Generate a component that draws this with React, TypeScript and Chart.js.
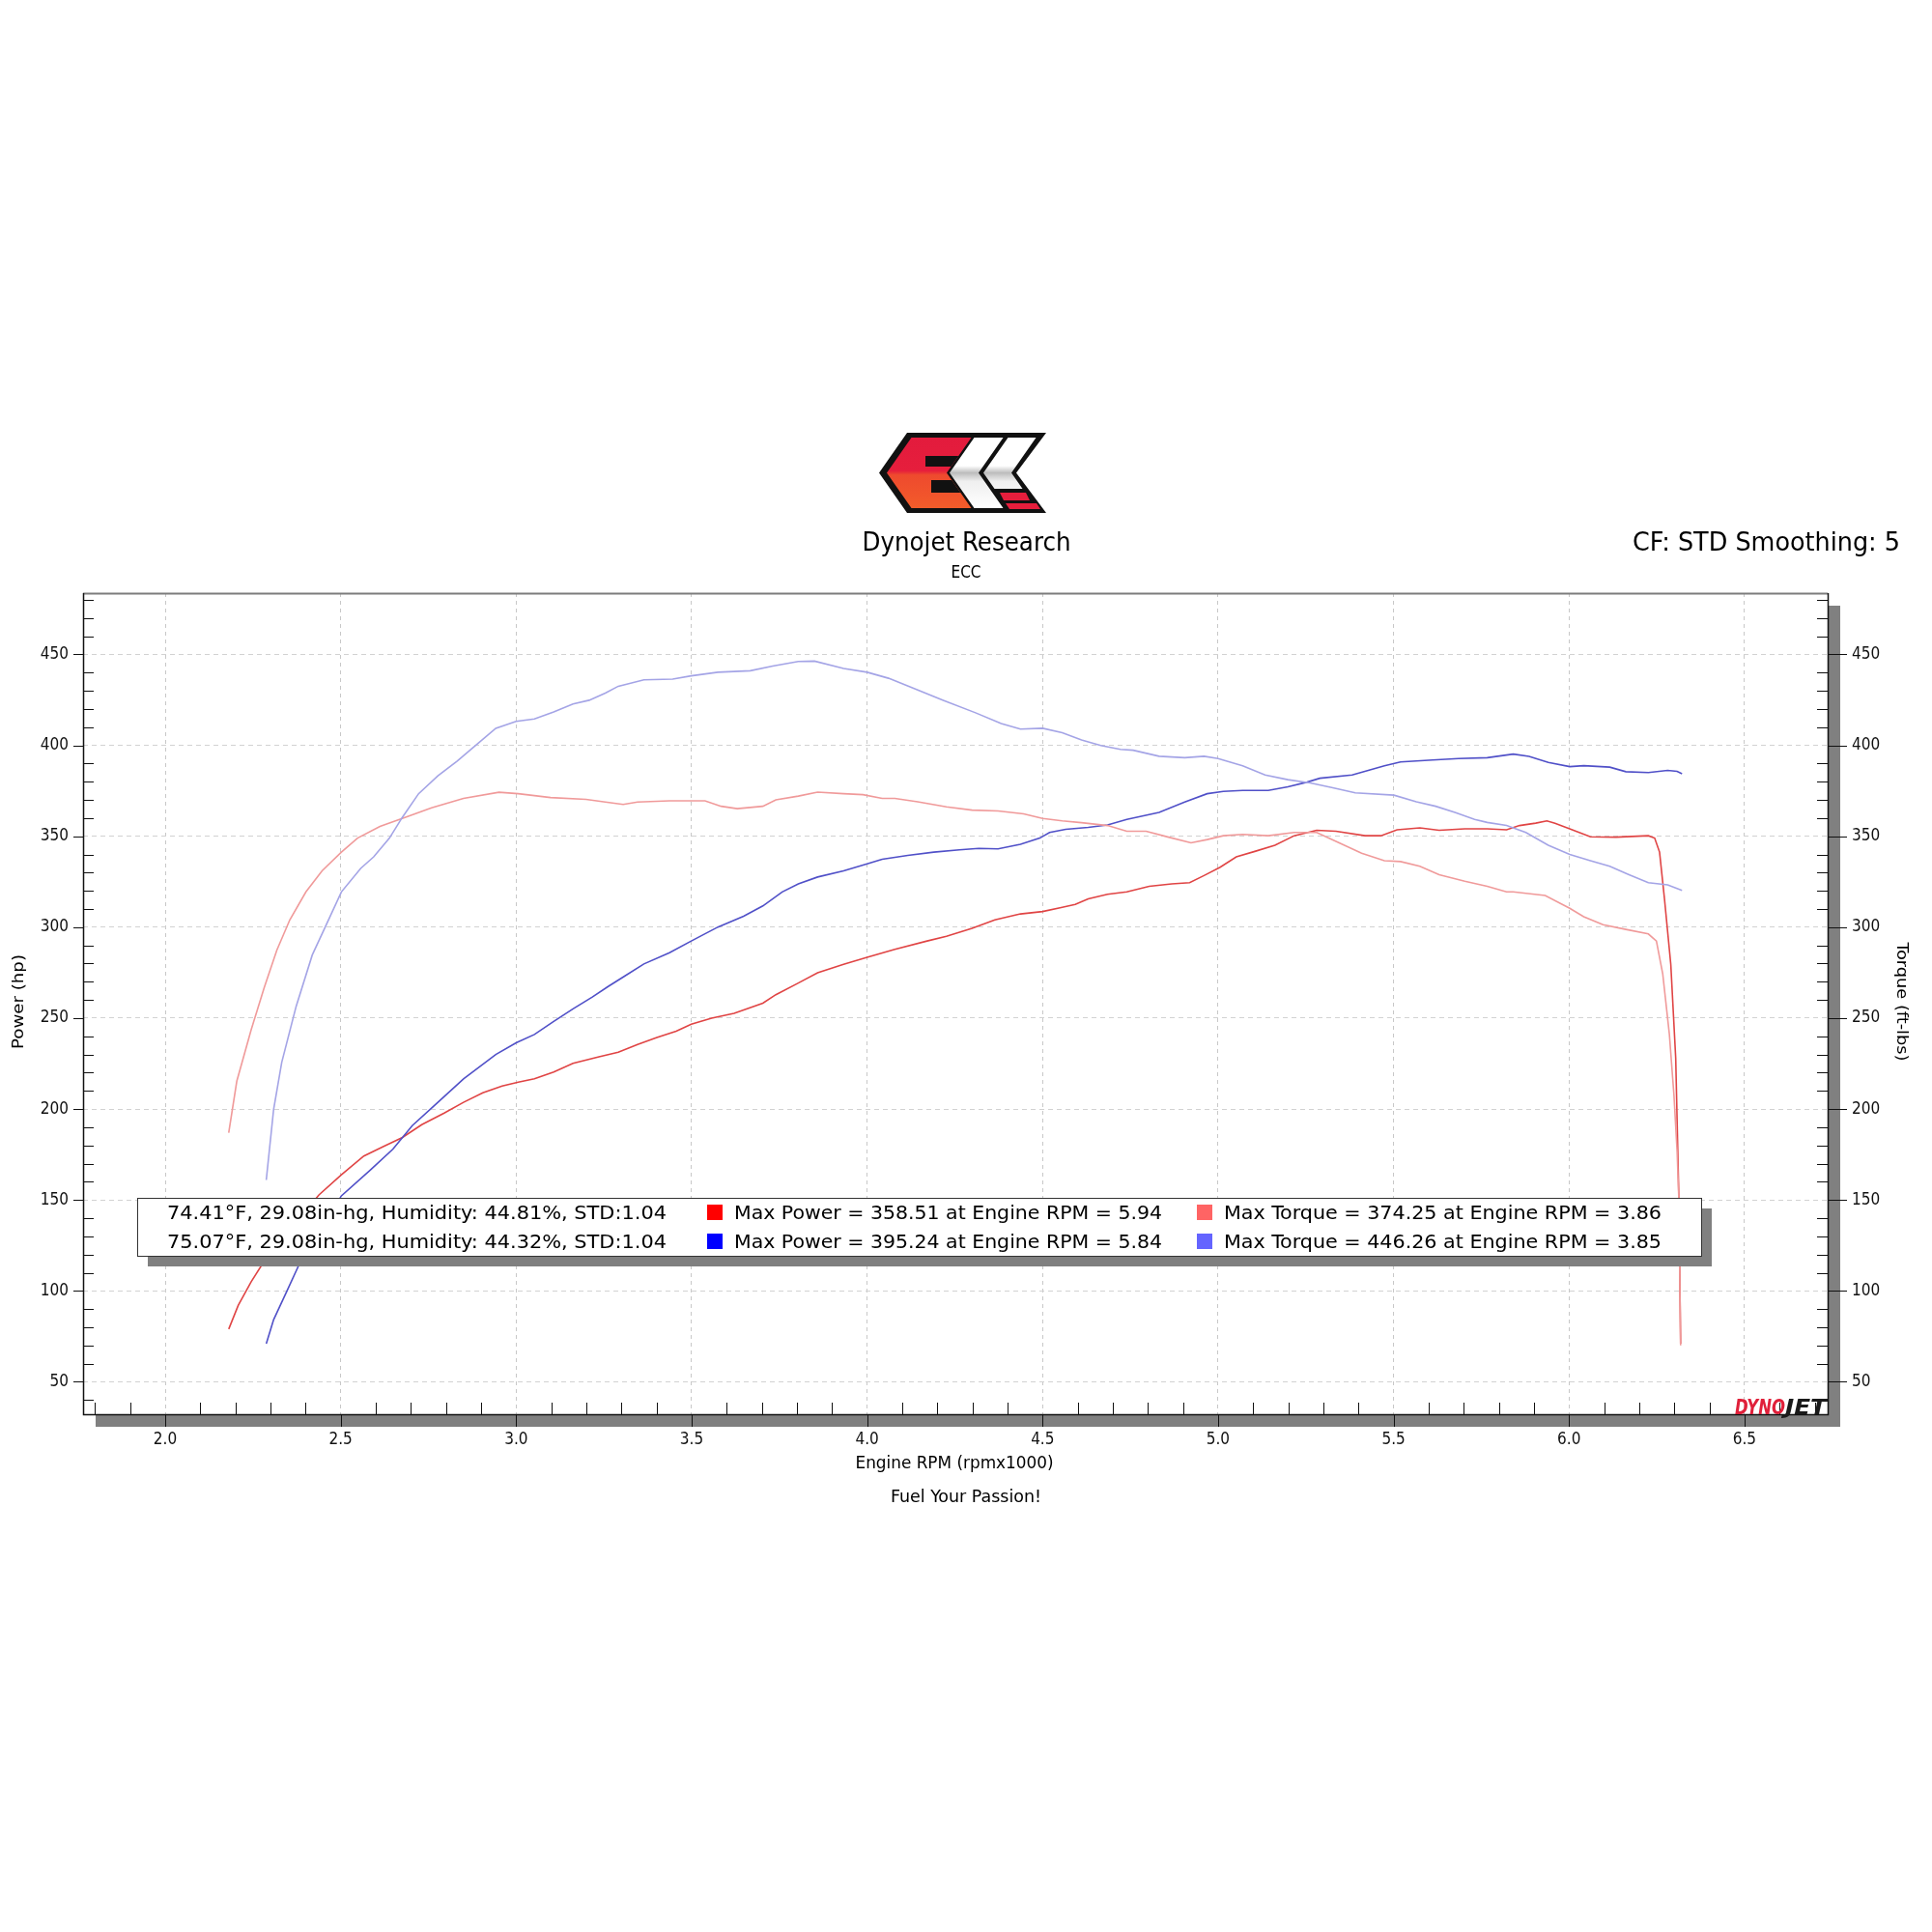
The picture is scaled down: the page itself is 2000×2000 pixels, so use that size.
import { useEffect, useRef } from 'react';
import { Chart, registerables } from 'chart.js';

Chart.register(...registerables);

// ---------- data ----------
const P1_RPM = [2.181, 2.208, 2.245, 2.286, 2.36, 2.438, 2.502, 2.566, 2.621, 2.676, 2.731, 2.795, 2.85, 2.905, 2.96, 3.006, 3.052, 3.107, 3.162, 3.236, 3.291, 3.346, 3.401, 3.456, 3.499, 3.557, 3.621, 3.703, 3.74, 3.804, 3.859, 3.933, 4.0, 4.079, 4.171, 4.226, 4.299, 4.364, 4.437, 4.5, 4.556, 4.593, 4.63, 4.685, 4.74, 4.804, 4.868, 4.919, 4.96, 5.006, 5.052, 5.107, 5.162, 5.217, 5.281, 5.336, 5.419, 5.464, 5.51, 5.575, 5.63, 5.703, 5.767, 5.822, 5.859, 5.905, 5.937, 5.96, 6.002, 6.061, 6.134, 6.226, 6.244, 6.258, 6.272, 6.29, 6.304, 6.313, 6.318];
const P1_HP = [79, 92, 105, 117.6, 135, 152.8, 163.9, 174.2, 179.3, 184.4, 191.4, 197.8, 203.7, 208.9, 212.7, 214.8, 216.6, 220.4, 225.1, 228.7, 231.2, 235.5, 239.3, 242.8, 246.7, 250, 252.6, 258.2, 262.9, 269.3, 274.9, 279.6, 283.4, 287.8, 292.4, 295, 299.4, 304, 307.3, 308.6, 310.9, 312.5, 315.6, 318.1, 319.4, 322.5, 323.8, 324.5, 328.4, 333, 338.7, 341.8, 345.1, 350.3, 353.3, 352.8, 350.3, 350.3, 353.6, 354.6, 353.3, 354.1, 354.1, 353.6, 355.9, 357.2, 358.5, 357.2, 354.1, 349.7, 349.5, 350.3, 349, 341.3, 315.6, 279.6, 228.1, 151, 71];

const T1_RPM = [2.181, 2.204, 2.245, 2.282, 2.318, 2.355, 2.401, 2.447, 2.502, 2.548, 2.612, 2.685, 2.759, 2.85, 2.951, 3.006, 3.098, 3.199, 3.254, 3.305, 3.346, 3.401, 3.437, 3.538, 3.584, 3.63, 3.703, 3.74, 3.804, 3.859, 3.933, 3.988, 4.043, 4.079, 4.144, 4.226, 4.299, 4.373, 4.446, 4.5, 4.556, 4.611, 4.685, 4.74, 4.795, 4.859, 4.923, 4.969, 5.015, 5.07, 5.143, 5.217, 5.281, 5.345, 5.409, 5.474, 5.52, 5.575, 5.63, 5.703, 5.767, 5.822, 5.841, 5.932, 6.002, 6.042, 6.097, 6.162, 6.226, 6.249, 6.267, 6.286, 6.299, 6.308, 6.313, 6.318];
const T1_TQ = [187, 215.3, 243.6, 266.7, 287.3, 304, 319.4, 331, 341.3, 349, 355.4, 360.5, 365.7, 370.8, 374.2, 373.4, 371.3, 370.3, 368.8, 367.5, 368.8, 369.2, 369.5, 369.5, 366.5, 365.2, 366.5, 370, 372.1, 374.3, 373.4, 372.9, 370.8, 370.8, 369, 366.2, 364.4, 363.9, 362.3, 359.8, 358.5, 357.5, 355.9, 352.8, 352.8, 349.5, 346.4, 348.2, 350.3, 351, 350.3, 352.1, 352.1, 346.4, 340.7, 336.6, 336.1, 333.5, 328.9, 325.3, 322.5, 319.4, 319.4, 317.4, 310.4, 305.8, 301.4, 298.8, 296.3, 292.4, 274.4, 241, 207.6, 176.7, 150, 70];

const P2_RPM = [2.288, 2.309, 2.346, 2.392, 2.45, 2.502, 2.584, 2.649, 2.704, 2.777, 2.85, 2.942, 3.0, 3.052, 3.107, 3.162, 3.217, 3.263, 3.309, 3.364, 3.437, 3.499, 3.575, 3.648, 3.703, 3.758, 3.804, 3.859, 3.933, 4.0, 4.043, 4.116, 4.19, 4.263, 4.318, 4.373, 4.437, 4.492, 4.52, 4.566, 4.63, 4.685, 4.74, 4.832, 4.905, 4.969, 5.015, 5.07, 5.143, 5.199, 5.254, 5.29, 5.382, 5.428, 5.474, 5.52, 5.611, 5.685, 5.767, 5.841, 5.886, 5.941, 6.002, 6.042, 6.116, 6.162, 6.226, 6.281, 6.308, 6.322];
const P2_HP = [71, 84.2, 99.6, 118.9, 136, 152.3, 166.4, 178, 190.9, 203.7, 216.6, 230, 236.4, 241, 248.2, 255.1, 261.6, 267.5, 273.1, 279.8, 286, 292.4, 300.1, 306, 311.7, 319.4, 323.8, 327.6, 331, 334.8, 337.4, 339.5, 341.3, 342.5, 343.3, 343.1, 345.6, 349, 352.1, 353.8, 354.9, 356.2, 359.3, 363.1, 368.8, 373.4, 374.7, 375.2, 375.2, 377.2, 379.8, 381.9, 383.7, 386.2, 388.8, 390.9, 391.9, 392.7, 393.2, 395.2, 393.9, 390.6, 388.3, 388.8, 388, 385.5, 385, 386.2, 385.7, 384.4];

const T2_RPM = [2.288, 2.309, 2.332, 2.373, 2.419, 2.456, 2.502, 2.557, 2.594, 2.639, 2.676, 2.722, 2.777, 2.832, 2.887, 2.942, 3.0, 3.052, 3.107, 3.162, 3.208, 3.254, 3.291, 3.364, 3.446, 3.499, 3.575, 3.667, 3.731, 3.804, 3.85, 3.933, 4.0, 4.061, 4.134, 4.217, 4.309, 4.382, 4.437, 4.5, 4.556, 4.611, 4.666, 4.722, 4.758, 4.832, 4.905, 4.96, 5.0, 5.07, 5.134, 5.199, 5.263, 5.327, 5.391, 5.501, 5.565, 5.62, 5.675, 5.731, 5.767, 5.822, 5.877, 5.941, 6.002, 6.061, 6.116, 6.171, 6.226, 6.281, 6.322];
const T2_TQ = [161, 199.9, 225.6, 256.4, 284.7, 300.1, 319.4, 332.3, 338.7, 349, 360.5, 373.4, 383.2, 391.4, 400.4, 409.4, 413.2, 414.5, 418.4, 422.8, 424.8, 428.7, 432.5, 436, 436.4, 438.2, 440.2, 441, 443.6, 446.1, 446.3, 442.3, 440.2, 436.9, 431.2, 424.8, 417.9, 412, 408.9, 409.4, 407, 403, 399.9, 397.8, 397.3, 394, 393.2, 394, 392.7, 388.8, 383.7, 381.1, 379.3, 376.7, 373.9, 372.6, 369, 366.5, 363.1, 359.3, 357.6, 356, 352.1, 345.1, 340, 336.6, 333.5, 328.9, 324.5, 323.3, 320.2];

const X_TICKS = [2.0, 2.5, 3.0, 3.5, 4.0, 4.5, 5.0, 5.5, 6.0, 6.5];
const Y_TICKS = [50, 100, 150, 200, 250, 300, 350, 400, 450];
const X_MIN = 1.766;
const X_MAX = 6.737;
const Y_MIN = 32.2;
const Y_MAX = 483.7;

const RUN_CONDITIONS = [
  '74.41°F, 29.08in-hg, Humidity: 44.81%, STD:1.04',
  '75.07°F, 29.08in-hg, Humidity: 44.32%, STD:1.04',
];
const MAX_POWER = [358.51, 395.24];
const MAX_POWER_RPM = [5.94, 5.84];
const MAX_TORQUE = [374.25, 446.26];
const MAX_TORQUE_RPM = [3.86, 3.85];

const TITLE = 'Dynojet Research';
const SUBTITLE = 'ECC';
const CORNER_NOTE = 'CF: STD Smoothing: 5';
const X_TITLE = 'Engine RPM (rpmx1000)';
const FOOTER = 'Fuel Your Passion!';
const Y_TITLE = 'Power (hp)';
const Y2_TITLE = 'Torque (ft-lbs)';

// ---------- styles ----------
const FONT = "'DejaVu Sans Condensed', 'DejaVu Sans', sans-serif";
const C_P1 = '#e04444';
const C_T1 = '#f09a9a';
const C_P2 = '#5050c8';
const C_T2 = '#a4a4e6';

function drawText(ctx: CanvasRenderingContext2D, text: string, x: number, y: number, o: any) {
  const size = o.size || 16;
  ctx.save();
  ctx.font = `${o.style || 'normal'} ${o.weight || 'normal'} ${size}px ${o.family || FONT}`;
  const w = ctx.measureText(text).width;
  const sx = o.width ? o.width / w : 1;
  ctx.translate(x, y);
  if (o.rotate) ctx.rotate(o.rotate);
  ctx.scale(sx, 1);
  ctx.textBaseline = 'alphabetic';
  ctx.textAlign = o.align || 'left';
  ctx.fillStyle = o.color || '#000';
  ctx.fillText(text, 0, 0);
  ctx.restore();
  return sx;
}

function poly(ctx: CanvasRenderingContext2D, pts: number[][]) {
  ctx.beginPath();
  pts.forEach((p, i) => (i ? ctx.lineTo(p[0], p[1]) : ctx.moveTo(p[0], p[1])));
  ctx.closePath();
}

function band(tip: number, w: number, yt: number, yb: number, ym: number, k: number) {
  return [
    [tip, ym],
    [tip + (ym - yt) * k, yt],
    [tip + (ym - yt) * k + w, yt],
    [tip + w, ym],
    [tip + (yb - ym) * k + w, yb],
    [tip + (yb - ym) * k, yb],
  ];
}

function drawEccLogo(ctx: CanvasRenderingContext2D) {
  const ym = 489.5;
  const k = 29 / 41.5;
  ctx.save();
  poly(ctx, [[910, ym], [939, 448], [1083, 448], [1052, ym], [1083, 531], [939, 531]]);
  ctx.fillStyle = '#111';
  ctx.fill();
  const red = ctx.createLinearGradient(0, 453, 0, 526);
  red.addColorStop(0, '#e31b3d');
  red.addColorStop(0.47, '#e61e3c');
  red.addColorStop(0.53, '#ee4a2e');
  red.addColorStop(1, '#f35c2a');
  poly(ctx, band(918, 62, 453, 526, ym, k));
  ctx.fillStyle = red;
  ctx.fill();
  ctx.save();
  poly(ctx, band(918, 62, 453, 526, ym, k));
  ctx.clip();
  ctx.fillStyle = '#111';
  ctx.fillRect(958, 472, 60, 11);
  ctx.fillRect(964, 497, 60, 13);
  ctx.restore();
  const white = ctx.createLinearGradient(0, 453, 0, 526);
  white.addColorStop(0, '#ffffff');
  white.addColorStop(0.4, '#ffffff');
  white.addColorStop(0.5, '#bdbdbd');
  white.addColorStop(0.62, '#efefef');
  white.addColorStop(1, '#ffffff');
  poly(ctx, band(983, 30, 453, 526, ym, k));
  ctx.fillStyle = white;
  ctx.fill();
  poly(ctx, band(1018, 29, 453, 506, ym, k));
  ctx.fill();
  ctx.fillStyle = '#e61e3c';
  poly(ctx, [[1035, 510], [1062, 510], [1066, 518], [1039, 518]]);
  ctx.fill();
  poly(ctx, [[1041, 521], [1073, 521], [1077, 527], [1045, 527]]);
  ctx.fill();
  ctx.restore();
}

const decorPlugin = {
  id: 'decor',
  beforeDraw(chart: any) {
    const ctx = chart.ctx as CanvasRenderingContext2D;
    const { left, right, top, bottom } = chart.chartArea;
    ctx.save();
    ctx.fillStyle = '#ffffff';
    ctx.fillRect(0, 0, chart.width, chart.height);
    ctx.fillStyle = '#808080';
    ctx.fillRect(right + 1, top + 13, 12, bottom - top);
    ctx.fillRect(left + 13, bottom + 1, right - left, 12);
    ctx.restore();
  },
  afterDraw(chart: any) {
    const ctx = chart.ctx as CanvasRenderingContext2D;
    const { left, right, top, bottom } = chart.chartArea;
    const xs = chart.scales.x;
    const ys = chart.scales.y;
    ctx.save();
    ctx.lineWidth = 2;
    ctx.strokeStyle = '#7c7c7c';
    ctx.beginPath();
    ctx.moveTo(left, top + 0.5);
    ctx.lineTo(right, top + 0.5);
    ctx.stroke();
    ctx.strokeStyle = '#111';
    ctx.lineWidth = 1.5;
    ctx.beginPath();
    ctx.moveTo(left + 0.5, top);
    ctx.lineTo(left + 0.5, bottom + 0.5);
    ctx.lineTo(right + 0.5, bottom + 0.5);
    ctx.lineTo(right + 0.5, top);
    ctx.stroke();

    ctx.lineWidth = 1;
    ctx.strokeStyle = '#111';
    ctx.beginPath();
    for (let v = Math.ceil(ys.min / 10) * 10; v <= ys.max; v += 10) {
      const py = Math.round(ys.getPixelForValue(v)) + 0.5;
      if (v % 50 === 0) {
        ctx.moveTo(left - 10, py); ctx.lineTo(left, py);
        ctx.moveTo(right, py); ctx.lineTo(right + 20, py);
      } else {
        ctx.moveTo(left, py); ctx.lineTo(left + 11, py);
        ctx.moveTo(right - 11, py); ctx.lineTo(right, py);
      }
    }
    for (let i = Math.ceil(xs.min * 10); i <= Math.floor(xs.max * 10); i++) {
      const px = Math.round(xs.getPixelForValue(i / 10)) + 0.5;
      if (i % 5 === 0) {
        ctx.moveTo(px, bottom); ctx.lineTo(px, bottom + 13);
      } else {
        ctx.moveTo(px, bottom - 12); ctx.lineTo(px, bottom);
      }
    }
    ctx.stroke();

    // legend box
    const bx = 142, by = 1240, bw = 1619, bh = 60;
    ctx.fillStyle = '#808080';
    ctx.fillRect(bx + 11, by + 11, bw, bh);
    ctx.fillStyle = '#ffffff';
    ctx.fillRect(bx, by, bw, bh);
    ctx.strokeStyle = '#333';
    ctx.lineWidth = 1;
    ctx.strokeRect(bx + 0.5, by + 0.5, bw, bh);
    const rowBase = [1262, 1292];
    const powerColors = ['#ff0000', '#0000ff'];
    const torqueColors = ['#ff6464', '#6464ff'];
    ctx.font = `normal normal 20px ${FONT}`;
    const t2s = MAX_POWER.map((p, r) => `Max Power = ${p.toFixed(2)} at Engine RPM = ${MAX_POWER_RPM[r].toFixed(2)}`);
    const t3s = MAX_TORQUE.map((t, r) => `Max Torque = ${t.toFixed(2)} at Engine RPM = ${MAX_TORQUE_RPM[r].toFixed(2)}`);
    const s1 = 517 / ctx.measureText(RUN_CONDITIONS[0]).width;
    const s2 = 443 / ctx.measureText(t2s[0]).width;
    const s3 = 453 / ctx.measureText(t3s[0]).width;
    for (let r = 0; r < 2; r++) {
      const b = rowBase[r];
      ctx.font = `normal normal 20px ${FONT}`;
      const w1 = ctx.measureText(RUN_CONDITIONS[r]).width * s1;
      const w2 = ctx.measureText(t2s[r]).width * s2;
      const w3 = ctx.measureText(t3s[r]).width * s3;
      drawText(ctx, RUN_CONDITIONS[r], 173, b, { size: 20, width: w1 });
      ctx.fillStyle = powerColors[r];
      ctx.fillRect(732, b - 15, 16, 16);
      drawText(ctx, t2s[r], 760, b, { size: 20, width: w2 });
      ctx.fillStyle = torqueColors[r];
      ctx.fillRect(1239, b - 15, 16, 16);
      drawText(ctx, t3s[r], 1267, b, { size: 20, width: w3 });
    }

    drawText(ctx, TITLE, 1000.5, 570, { size: 27, width: 216, align: 'center' });
    drawText(ctx, SUBTITLE, 1000, 598, { size: 17, width: 31, align: 'center' });
    drawText(ctx, CORNER_NOTE, 1690, 570, { size: 26, width: 277 });
    drawText(ctx, X_TITLE, 988, 1520, { size: 17, width: 205, align: 'center' });
    drawText(ctx, FOOTER, 1000, 1555, { size: 17, width: 156, align: 'center' });
    drawText(ctx, Y_TITLE, 24, 1037, { size: 16, width: 98, align: 'center', rotate: -Math.PI / 2 });
    drawText(ctx, Y2_TITLE, 1964, 1037, { size: 16, width: 123, align: 'center', rotate: Math.PI / 2 });

    drawText(ctx, 'DYNO', 1796, 1464, { size: 21, width: 52, weight: 'bold', style: 'italic', color: '#e0203a' });
    drawText(ctx, 'JET', 1848, 1464, { size: 21, width: 43, weight: 'bold', style: 'italic', color: '#1a1a1a' });

    drawEccLogo(ctx);
    ctx.restore();
  },
};

function pts(xs: number[], ys: number[]) {
  return xs.map((x, i) => ({ x, y: ys[i] }));
}

export default function App() {
  const ref = useRef<HTMLCanvasElement>(null);
  useEffect(() => {
    if (!ref.current) return;
    const line = (data: any, color: string, axis: string) => ({
      data,
      borderColor: color,
      backgroundColor: color,
      borderWidth: 1.6,
      pointRadius: 0,
      tension: 0,
      fill: false,
      yAxisID: axis,
    });
    const tickFont = { family: FONT, size: 17 };
    const chart = new Chart(ref.current, {
      type: 'line',
      data: {
        datasets: [
          line(pts(T2_RPM, T2_TQ), C_T2, 'y2'),
          line(pts(T1_RPM, T1_TQ), C_T1, 'y2'),
          line(pts(P2_RPM, P2_HP), C_P2, 'y'),
          line(pts(P1_RPM, P1_HP), C_P1, 'y'),
        ],
      },
      options: {
        responsive: false,
        animation: false,
        devicePixelRatio: 1,
        layout: { padding: { top: 614, left: 0, right: 0, bottom: 0 } },
        plugins: { legend: { display: false }, tooltip: { enabled: false }, title: { display: false } },
        scales: {
          x: {
            type: 'linear',
            position: 'bottom',
            min: X_MIN,
            max: X_MAX,
            afterBuildTicks: (s: any) => { s.ticks = X_TICKS.map((v) => ({ value: v })); },
            afterFit: (s: any) => { s.height = 2000 - 1464; },
            ticks: { callback: (v: any) => Number(v).toFixed(1), font: tickFont, color: '#111', padding: 16, maxRotation: 0, autoSkip: false },
            grid: { color: '#c8c8c8', lineWidth: 1, drawTicks: false },
            border: { display: false, dash: [4, 4] },
          },
          y: {
            type: 'linear',
            position: 'left',
            min: Y_MIN,
            max: Y_MAX,
            afterBuildTicks: (s: any) => { s.ticks = Y_TICKS.map((v) => ({ value: v })); },
            afterFit: (s: any) => { s.width = 86; },
            ticks: { callback: (v: any) => String(v), font: tickFont, color: '#111', padding: 15 },
            grid: { color: '#d2d2d2', lineWidth: 1, drawTicks: false },
            border: { display: false, dash: [5, 4] },
          },
          y2: {
            type: 'linear',
            position: 'right',
            min: Y_MIN,
            max: Y_MAX,
            afterBuildTicks: (s: any) => { s.ticks = Y_TICKS.map((v) => ({ value: v })); },
            afterFit: (s: any) => { s.width = 2000 - 1892; },
            ticks: { callback: (v: any) => String(v), font: tickFont, color: '#111', padding: 25 },
            grid: { display: false, drawTicks: false },
            border: { display: false },
          },
        },
      },
      plugins: [decorPlugin],
    } as any);
    return () => chart.destroy();
  }, []);
  return (
    <div style={{ position: 'absolute', left: 0, top: 0, width: 2000, height: 2000, background: '#fff' }}>
      <canvas ref={ref} width={2000} height={2000} style={{ width: 2000, height: 2000, display: 'block' }} />
    </div>
  );
}
